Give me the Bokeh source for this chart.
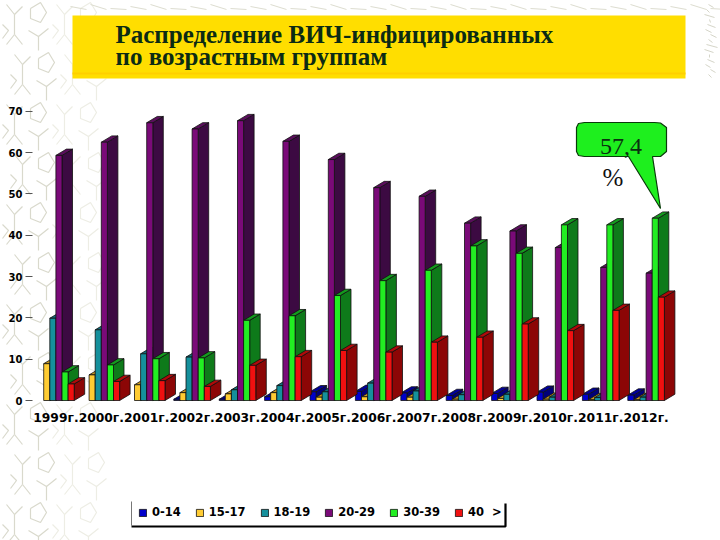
from bokeh.core.properties import value
from bokeh.embed import file_html
from bokeh.resources import INLINE
from bokeh.plotting import figure
from bokeh.models import (Range1d, LinearAxis, FixedTicker, AllLabels, Legend, LegendItem)

# ---------- data ----------
years = ["1999г.", "2000г.", "2001г.", "2002г.", "2003г.", "2004г.", "2005г.",
         "2006г.", "2007г.", "2008г.", "2009г.", "2010г.", "2011г.", "2012г."]
age_0_14 = [0, 0, 0, 0.3, 0.3, 0.9, 2.1, 2.2, 1.8, 1.2, 1.7, 2.0, 1.5, 1.3]
age_15_17 = [8.9, 6.2, 3.8, 1.9, 1.6, 1.9, 0.8, 0.9, 0.8, 0.3, 0.5, 0.3, 0.2, 0.2]
age_18_19 = [19.9, 17.1, 11.3, 10.5, 2.6, 3.6, 2.1, 4.2, 2.3, 1.4, 1.5, 0.8, 0.7, 0.8]
age_20_29 = [59.3, 62.5, 67.2, 65.7, 67.7, 62.7, 58.3, 51.5, 49.4, 42.9, 41.0, 37.0, 32.2, 30.8]
age_30_39 = [6.9, 8.6, 10.1, 10.3, 19.4, 20.5, 25.4, 29.0, 31.5, 37.4, 35.6, 42.5, 42.5, 44.1]
age_40_up = [4.0, 4.6, 4.8, 3.4, 8.5, 10.6, 12.1, 11.7, 14.1, 15.3, 18.5, 16.9, 21.8, 25.0]
series_names = ["0-14", "15-17", "18-19", "20-29", "30-39", "40  >"]
y_ticks = [0, 10, 20, 30, 40, 50, 60, 70]
title_lines = ["Распределение ВИЧ-инфицированных", "по возрастным группам"]
callout_value = "57,4"
callout_unit = "%"

# ---------- style ----------
fronts = ["#0000CC", "#FFCC33", "#15909C", "#7A0A78", "#22EE22", "#F01010"]
sides = ["#000078", "#A07818", "#0C5560", "#3C0A42", "#0E7A1A", "#8C0606"]
tops = ["#000099", "#C89820", "#107080", "#5A0E5C", "#149A1E", "#B00A0A"]
all_series = [age_0_14, age_15_17, age_18_19, age_20_29, age_30_39, age_40_up]

CW = 45.4      # px per category
VH = 4.133     # px per value unit
X0, Y0 = 55.4, 400.0   # reference px of first category / zero line
BAR = 6.1 / CW
DX, DY = 10.5 / CW, 6.3 / VH


def px(x):
    return (x - X0) / CW


def py(y):
    return (Y0 - y) / VH


p = figure(width=720, height=540, output_backend="svg", toolbar_location=None,
           x_range=Range1d(px(0), px(720)), y_range=Range1d(py(540), py(0)),
           x_axis_location=None, y_axis_location=None, min_border=0,
           outline_line_color=None, background_fill_color="white",
           border_fill_color="white")
p.xgrid.visible = False
p.ygrid.visible = False

# ---------- faint background doodles ----------
tile = [
    [(6, 4), (14, 14), (22, 6)], [(14, 14), (14, 34)], [(14, 34), (6, 44)], [(14, 34), (22, 44)],
    [(30, 8), (40, 2), (46, 12), (40, 22), (30, 18), (30, 8)],
    [(28, 30), (38, 36), (48, 28)], [(38, 36), (38, 50)], [(2, 24), (8, 30), (2, 38)],
]
dx_lines, dy_lines = [], []
faint_xs, faint_ys = [], []
for tx in (0, 50):
    for row, ty in enumerate(range(0, 540, 50)):
        shift = 8 if row % 2 else 0
        for stroke in tile:
            xs = [px(tx + a + shift) for a, _ in stroke]
            ys = [py(ty + b) for _, b in stroke]
            if tx == 0:
                dx_lines.append(xs)
                dy_lines.append(ys)
            else:
                faint_xs.append(xs)
                faint_ys.append(ys)
p.multi_line(dx_lines, dy_lines, line_color="#D9D9CC", line_width=1.2)
p.multi_line(faint_xs, faint_ys, line_color="#EDEDE4", line_width=1.2)
top_xs = [[px(a), px(a + 16)] for a in range(70, 720, 20)]
top_ys = [[py(4 + (a % 3) * 2), py(5 + (a % 4) * 2)] for a in range(70, 720, 20)]
p.multi_line(top_xs, top_ys, line_color="#DDDDD0", line_width=1)
right_xs = [[px(704 + a % 7), px(709 + a % 9)] for a in range(4, 75, 5)]
right_ys = [[py(a), py(a + 3)] for a in range(4, 75, 5)]
p.multi_line(right_xs, right_ys, line_color="#D5D5C8", line_width=1)

# ---------- title banner ----------
p.quad(left=px(72), right=px(685), bottom=py(78), top=py(15), fill_color="#FFDE00", line_color=None)
p.quad(left=px(72), right=px(685), bottom=py(74), top=py(72), fill_color="#FFCF00", line_color=None)
p.text(x=[px(115), px(115)], y=[py(34), py(56)], text=title_lines,
       text_font=value("Liberation Serif"), text_font_style="bold", text_font_size="25px",
       text_color="#0B2B14", text_baseline="middle", text_align="left")

# ---------- pseudo-3D bars ----------
items = []
for k, (vals, name) in enumerate(zip(all_series, series_names)):
    off = (k - 2.5) * BAR
    idx = [i for i, v in enumerate(vals) if v > 0]
    l = [i + off - BAR / 2 for i in idx]
    r = [i + off + BAR / 2 for i in idx]
    h = [vals[i] for i in idx]
    p.patches([[b, b + DX, b + DX, b] for b in r],
              [[0, DY, v + DY, v] for v in h],
              fill_color=sides[k], line_color="#101010", line_width=0.8)
    p.patches([[a, a + DX, b + DX, b] for a, b in zip(l, r)],
              [[v, v + DY, v + DY, v] for v in h],
              fill_color=tops[k], line_color="#101010", line_width=0.8)
    front = p.vbar(x=[i + off for i in idx], width=BAR, bottom=0, top=h,
                   fill_color=fronts[k], line_color="#101010", line_width=0.8)
    items.append(LegendItem(label=name, renderers=[front]))

# ---------- axes ----------
xax = LinearAxis(fixed_location=0, ticker=FixedTicker(ticks=list(range(len(years)))),
                 major_label_overrides={i: y for i, y in enumerate(years)},
                 major_label_policy=AllLabels(), axis_line_color=None,
                 major_tick_line_color=None, minor_tick_line_color=None,
                 major_tick_out=0, major_label_standoff=10,
                 major_label_text_font="DejaVu Sans", major_label_text_font_style="bold",
                 major_label_text_font_size="12.3px", major_label_text_color="black")
p.add_layout(xax, "below")
yax = LinearAxis(fixed_location=px(32), ticker=FixedTicker(ticks=y_ticks),
                 major_label_policy=AllLabels(), axis_line_color=None,
                 major_tick_line_color="#555555", minor_tick_line_color=None,
                 major_tick_out=7, major_tick_in=0, major_label_standoff=3,
                 major_label_text_font="DejaVu Sans", major_label_text_font_style="bold",
                 major_label_text_font_size="10px", major_label_text_color="black")
p.add_layout(yax, "left")

# ---------- callout ----------
cx = [584, 654, 660, 666, 666, 660, 652, 660, 628, 584, 578, 576, 576, 578]
cy = [122, 122, 122.5, 127, 151, 156, 156, 208, 156, 156, 155, 151, 127, 123]
p.patch([px(a) for a in cx], [py(b) for b in cy], fill_color="#1EEF1E",
        line_color="#0A3A0A", line_width=1.2)
p.text(x=[px(620.5)], y=[py(146)], text=[callout_value], text_font=value("Liberation Serif"),
       text_font_size="24px", text_color="#0A3010", text_align="center", text_baseline="middle")
p.text(x=[px(612.5)], y=[py(177)], text=[callout_unit], text_font=value("Liberation Serif"),
       text_font_size="25px", text_color="#101010", text_align="center", text_baseline="middle")

# ---------- legend ----------
p.quad(left=px(131), right=px(505), bottom=py(526), top=py(499), fill_color="white", line_color=None)
p.line([px(131), px(131)], [py(501), py(525)], line_color="#777777", line_width=1)
p.line([px(131), px(505), px(505)], [py(526), py(526), py(503)], line_color="black", line_width=2.2)
legend = Legend(items=items, orientation="horizontal", location=(138, 21), margin=0, padding=8,
                spacing=14, label_standoff=5, glyph_width=9, glyph_height=9,
                label_text_font="DejaVu Sans", label_text_font_style="bold",
                label_text_font_size="11.5px", label_text_color="black",
                border_line_color=None, background_fill_alpha=0, label_height=10)
p.add_layout(legend, "center")

open("out.html", "w").write(file_html(p, INLINE))
